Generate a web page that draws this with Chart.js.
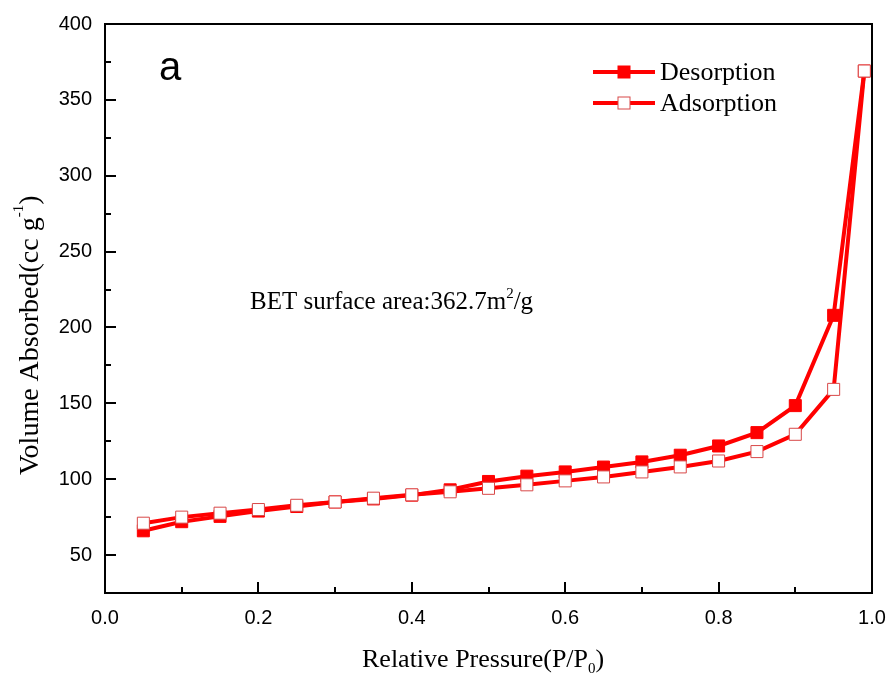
<!DOCTYPE html>
<html>
<head>
<meta charset="utf-8">
<script src="https://cdn.jsdelivr.net/npm/chart.js@4/dist/chart.umd.min.js"></script>
<style>
  html, body { margin: 0; padding: 0; background: #fff; }
  #wrap { width: 890px; height: 677px; }
</style>
</head>
<body>
<div id="wrap"><canvas id="bet-chart" width="890" height="677"></canvas></div>
<script>
// DATA
const pressure = [0.05, 0.10, 0.15, 0.20, 0.25, 0.30, 0.35, 0.40, 0.45, 0.50,
                  0.55, 0.60, 0.65, 0.70, 0.75, 0.80, 0.85, 0.90, 0.95, 0.99];
const desorption = [66, 72, 75.5, 79, 82, 85, 87, 89.5, 93, 98.5,
                    102, 104.8, 108, 111.4, 115.8, 121.9, 130.7, 148.5, 208, 369];
const adsorption = [71, 75, 77.6, 80, 82.8, 85, 87.5, 89.7, 91.7, 94,
                    96.3, 98.9, 101.5, 104.8, 108.1, 112, 118.2, 129.6, 159.2, 369];
const xTickLabels = [0.0, 0.2, 0.4, 0.6, 0.8, 1.0];
const yTickLabels = [50, 100, 150, 200, 250, 300, 350, 400];
const seriesNames = ["Desorption", "Adsorption"];

const red = "#ff0000";
const serif = "'Liberation Serif', 'Times New Roman', serif";
const sans = "'Liberation Sans', Arial, sans-serif";

const toPoints = (ys) => pressure.map((p, i) => ({ x: p, y: ys[i] }));

// frame, inward ticks, legend and labels
const framePlugin = {
  id: "frame",
  afterDraw(chart) {
    const { ctx, chartArea: a, scales } = chart;
    ctx.save();
    ctx.strokeStyle = "#000";
    ctx.lineWidth = 2;
    ctx.strokeRect(a.left, a.top, a.right - a.left, a.bottom - a.top);
    ctx.beginPath();
    scales.x.ticks.forEach(t => {
      const px = Math.round(scales.x.getPixelForValue(t.value));
      const major = xTickLabels.some(v => Math.abs(v - t.value) < 1e-6);
      const len = major ? 11 : 6;
      ctx.moveTo(px, a.bottom); ctx.lineTo(px, a.bottom - len);
    });
    scales.y.ticks.forEach(t => {
      const py = Math.round(scales.y.getPixelForValue(t.value));
      const major = yTickLabels.includes(t.value);
      const len = major ? 11 : 6;
      ctx.moveTo(a.left, py); ctx.lineTo(a.left + len, py);
    });
    ctx.stroke();

    // "a" label
    ctx.fillStyle = "#000";
    ctx.font = "40px " + sans;
    ctx.textBaseline = "alphabetic";
    ctx.fillText("a", 159, 80);

    // BET annotation
    ctx.font = "25px " + serif;
    let x = 250, y = 309;
    const s1 = "BET surface area:362.7m";
    ctx.fillText(s1, x, y);
    x += ctx.measureText(s1).width;
    ctx.font = "15px " + serif;
    ctx.fillText("2", x, y - 11);
    x += ctx.measureText("2").width;
    ctx.font = "25px " + serif;
    ctx.fillText("/g", x, y);

    // legend
    chart.data.datasets.forEach((ds, i) => {
      const ly = 72 + i * 31;
      ctx.strokeStyle = ds.borderColor;
      ctx.lineWidth = 4;
      ctx.beginPath();
      ctx.moveTo(593, ly); ctx.lineTo(655, ly);
      ctx.stroke();
      ctx.fillStyle = ds.pointBackgroundColor;
      ctx.fillRect(618, ly - 6, 12, 12);
      ctx.strokeStyle = ds.pointBorderColor;
      ctx.lineWidth = 1;
      ctx.strokeRect(618, ly - 6, 12, 12);
      ctx.fillStyle = "#000";
      ctx.font = "26px " + serif;
      ctx.textBaseline = "middle";
      ctx.fillText(ds.label, 660, ly + 1);
    });

    // axis titles
    ctx.fillStyle = "#000";
    ctx.textBaseline = "alphabetic";
    ctx.font = "26px " + serif;
    const xt = "Relative Pressure(P/P";
    let tx = 362, ty = 667;
    ctx.fillText(xt, tx, ty);
    tx += ctx.measureText(xt).width;
    ctx.font = "15px " + serif;
    ctx.fillText("0", tx, ty + 6);
    tx += ctx.measureText("0").width;
    ctx.font = "26px " + serif;
    ctx.fillText(")", tx, ty);

    ctx.translate(38, 475);
    ctx.rotate(-Math.PI / 2);
    ctx.font = "28px " + serif;
    const yt = "Volume Absorbed(cc g";
    ctx.fillText(yt, 0, 0);
    let yx = ctx.measureText(yt).width;
    ctx.font = "15px " + serif;
    ctx.fillText("-1", yx, -15);
    yx += ctx.measureText("-1").width;
    ctx.font = "28px " + serif;
    ctx.fillText(")", yx, 0);
    ctx.restore();
  }
};

const ctx = document.getElementById("bet-chart").getContext("2d");

const config = {
  type: "scatter",
  data: {
    datasets: [
      {
        label: seriesNames[0],
        data: toPoints(desorption),
        showLine: true,
        borderColor: red,
        borderWidth: 4,
        pointStyle: "rect",
        pointRadius: 8.5,
        pointBackgroundColor: red,
        pointBorderColor: red,
        pointBorderWidth: 1,
        order: 1,
      },
      {
        label: seriesNames[1],
        data: toPoints(adsorption),
        showLine: true,
        borderColor: red,
        borderWidth: 4,
        pointStyle: "rect",
        pointRadius: 8.5,
        pointBackgroundColor: "#ffffff",
        pointBorderColor: "#d84848",
        pointBorderWidth: 1,
        order: 0,
      },
    ],
  },
  options: {
    responsive: false,
    animation: false,
    layout: { padding: { top: 24, right: 18, left: 0, bottom: 0 } },
    plugins: {
      legend: { display: false },
      tooltip: { enabled: false },
    },
    scales: {
      x: {
        type: "linear",
        min: 0,
        max: 1,
        grid: { display: false, drawTicks: false },
        border: { display: false },
        afterFit: (s) => { s.height = 84; s.paddingLeft = 0; s.paddingRight = 0; },
        ticks: {
          stepSize: 0.1,
          padding: 13,
          color: "#000",
          font: { family: sans, size: 20 },
          maxRotation: 0,
          autoSkip: false,
          callback: (v) => {
            const hit = xTickLabels.find(t => Math.abs(t - v) < 1e-6);
            return hit === undefined ? "" : hit.toFixed(1);
          },
        },
      },
      y: {
        type: "linear",
        min: 25,
        max: 400,
        grid: { display: false, drawTicks: false },
        border: { display: false },
        afterFit: (s) => { s.width = 105; s.paddingTop = 0; s.paddingBottom = 0; },
        ticks: {
          stepSize: 25,
          padding: 13,
          color: "#000",
          font: { family: sans, size: 20 },
          autoSkip: false,
          callback: (v) => (yTickLabels.includes(v) ? String(v) : ""),
        },
      },
    },
  },
  plugins: [framePlugin],
};

const betChart = new Chart(ctx, config);
</script>
</body>
</html>
